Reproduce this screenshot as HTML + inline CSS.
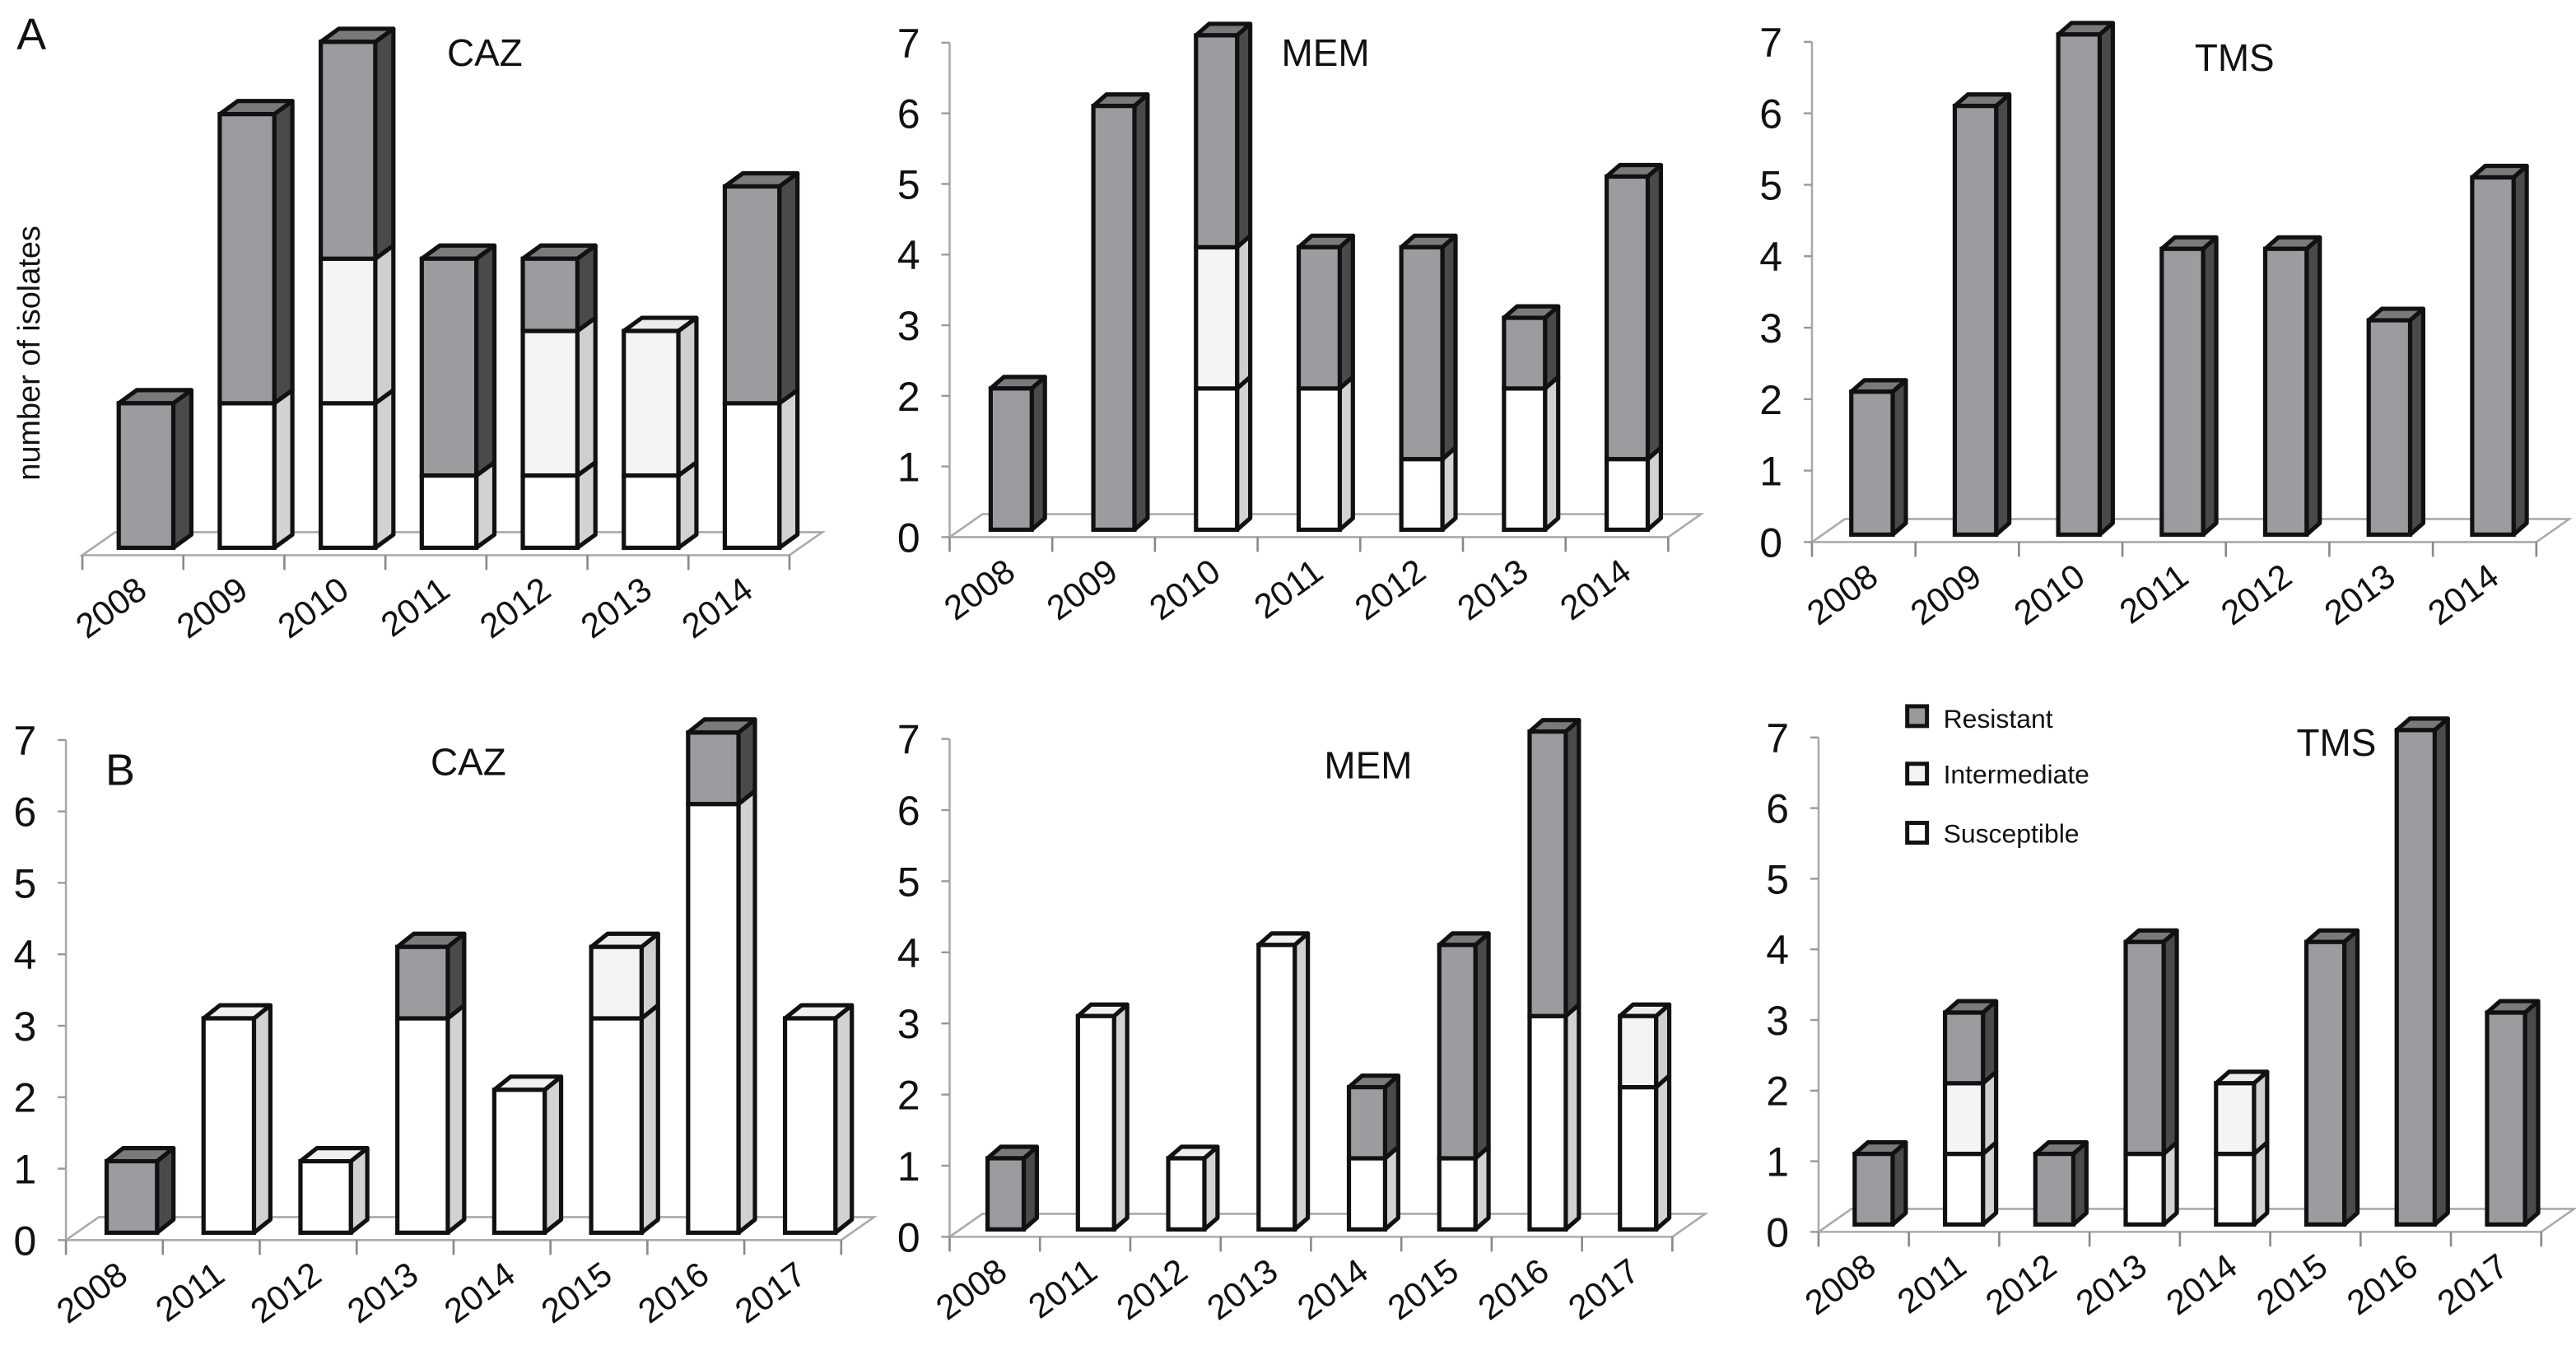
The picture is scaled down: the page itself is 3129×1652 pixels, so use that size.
<!DOCTYPE html>
<html><head><meta charset="utf-8"><style>
html,body{margin:0;padding:0;background:#fff;}
svg{display:block;}
text{font-family:"Liberation Sans",Arial,sans-serif;fill:#111;}
</style></head><body>
<svg id="chart" width="3129" height="1652" viewBox="0 0 1568 828" xmlns="http://www.w3.org/2000/svg">
<text x="10" y="30" font-size="27">A</text>
<text x="64" y="478" font-size="27">B</text>
<text transform="translate(24,215) rotate(-90)" text-anchor="middle" font-size="19">number of isolates</text>
<g>
<rect x="1161" y="430" width="12" height="12" fill="#999" stroke="#111" stroke-width="2.5"/>
<text x="1183" y="443" font-size="16">Resistant</text>
<rect x="1161" y="465" width="12" height="12" fill="#f3f3f3" stroke="#111" stroke-width="2.5"/>
<text x="1183" y="477" font-size="16">Intermediate</text>
<rect x="1161" y="501" width="12" height="12" fill="#fff" stroke="#111" stroke-width="2.5"/>
<text x="1183" y="513" font-size="16">Susceptible</text>
</g>
</svg>
<script>
const yearsA = ["2008","2009","2010","2011","2012","2013","2014"];
const yearsB = ["2008","2011","2012","2013","2014","2015","2016","2017"];
const yTicks = [0,1,2,3,4,5,6,7];
const cazA_S = [0,2,2,1,1,1,2];
const cazA_I = [0,0,2,0,2,2,0];
const cazA_R = [2,4,3,3,1,0,3];
const memA_S = [0,0,2,2,1,2,1];
const memA_I = [0,0,2,0,0,0,0];
const memA_R = [2,6,3,2,3,1,4];
const tmsA_S = [0,0,0,0,0,0,0];
const tmsA_I = [0,0,0,0,0,0,0];
const tmsA_R = [2,6,7,4,4,3,5];
const cazB_S = [0,3,1,3,2,3,6,3];
const cazB_I = [0,0,0,0,0,1,0,0];
const cazB_R = [1,0,0,1,0,0,1,0];
const memB_S = [0,3,1,4,1,1,3,2];
const memB_I = [0,0,0,0,0,0,0,1];
const memB_R = [1,0,0,0,1,3,4,0];
const tmsB_S = [0,1,0,1,1,0,0,0];
const tmsB_I = [0,1,0,0,1,0,0,0];
const tmsB_R = [1,1,1,3,0,4,7,3];

const NS="http://www.w3.org/2000/svg";
const svg=document.getElementById('chart');
function mk(tag,attrs,parent){const e=document.createElementNS(NS,tag);for(const k in attrs)e.setAttribute(k,attrs[k]);(parent||svg).appendChild(e);return e;}
const COLORS={S:{f:"#ffffff",s:"#d2d2d2",t:"#f0f0f0"},I:{f:"#f4f4f4",s:"#cfcfcf",t:"#ececec"},R:{f:"#9a9c9f",s:"#4a4a4a",t:"#7a7a7a"}};

function panel(p){
  const g=mk('g',{});
  
  
  const n=p.years.length, x1=p.x0+n*p.sp;
  const yOf=v=>p.floor-4.5-v*p.unit;
  const fl=mk('polygon',{points:`${p.x0},${p.floor} ${x1},${p.floor} ${x1+20},${p.floor-14} ${p.x0+20},${p.floor-14}`,fill:"none",stroke:"#aaa","stroke-width":1.3},g);
  
  
  for(let i=0;i<=n;i++){
    const t=mk('line',{x1:p.x0+i*p.sp,x2:p.x0+i*p.sp,y1:p.floor,y2:p.floor+9,stroke:"#888","stroke-width":1.3},g);
    
    
  }
  if(p.axis){
    const ax=mk('line',{x1:p.x0,x2:p.x0,y1:p.floor,y2:yOf(7)+4.5,stroke:"#aaa","stroke-width":1.3},g);
    
    
    yTicks.forEach(v=>{
      const yy=p.floor-v*p.unit;
      const tk=mk('line',{x1:p.x0-5,x2:p.x0,y1:yy,y2:yy,stroke:"#999","stroke-width":1.2},g);
      
      
      const tl=mk('text',{x:p.x0-18,y:yy+9,"text-anchor":"end","font-size":25},g);
      tl.textContent=v;
      
      
    });
  }
  const bw=p.bw*p.sp, dx=p.dx, dy=p.dy;
  for(let i=0;i<n;i++){
    const bx=p.x0+p.sp*(i+p.off);
    let acc=0;
    const segs=[["S",p.S[i]],["I",p.I[i]],["R",p.R[i]]].filter(s=>s[1]>0);
    segs.forEach(([k,v],j)=>{
      const yb=yOf(acc), yt=yOf(acc+v); acc+=v;
      const c=COLORS[k];
      const sg=mk('g',{},g);
      
      
      mk('polygon',{points:`${bx+bw},${yb} ${bx+bw+dx},${yb-dy} ${bx+bw+dx},${yt-dy} ${bx+bw},${yt}`,fill:c.s,stroke:"#111","stroke-width":2.6,"stroke-linejoin":"round"},sg);
      if(j===segs.length-1) mk('polygon',{points:`${bx},${yt} ${bx+dx},${yt-dy} ${bx+bw+dx},${yt-dy} ${bx+bw},${yt}`,fill:c.t,stroke:"#111","stroke-width":2.6,"stroke-linejoin":"round"},sg);
      mk('rect',{x:bx,y:yt,width:bw,height:yb-yt,fill:c.f,stroke:"#111","stroke-width":2.6},sg);
    });
    const lx=p.x0+p.sp*(i+0.66), ly=p.floor+24;
    const yl=mk('text',{x:lx,y:ly,"text-anchor":"end","font-size":21,transform:`rotate(-36 ${lx} ${ly})`},g);
    yl.textContent=p.years[i];
    
    
  }
  const tt=mk('text',{x:p.tx,y:p.ty,"font-size":23},g);
  tt.textContent=p.title;
  
  
}
panel({name:'panel-a-caz',key:'a-caz',years:yearsA,S:cazA_S,I:cazA_I,R:cazA_R,x0:50,sp:61.5,floor:338,unit:44,off:0.36,bw:0.54,dx:11,dy:8,axis:false,title:'CAZ',tx:272,ty:40});
panel({name:'panel-a-mem',key:'a-mem',years:yearsA,S:memA_S,I:memA_I,R:memA_R,x0:578,sp:62.5,floor:327,unit:43,off:0.40,bw:0.40,dx:8,dy:7,axis:true,title:'MEM',tx:780,ty:40});
panel({name:'panel-a-tms',key:'a-tms',years:yearsA,S:tmsA_S,I:tmsA_I,R:tmsA_R,x0:1103,sp:63,floor:330,unit:43.5,off:0.38,bw:0.40,dx:8,dy:7,axis:true,title:'TMS',tx:1336,ty:43});
panel({name:'panel-b-caz',key:'b-caz',years:yearsB,S:cazB_S,I:cazB_I,R:cazB_R,x0:40,sp:59,floor:755,unit:43.5,off:0.42,bw:0.52,dx:10,dy:8,axis:true,title:'CAZ',tx:262,ty:472});
panel({name:'panel-b-mem',key:'b-mem',years:yearsB,S:memB_S,I:memB_I,R:memB_R,x0:578,sp:55,floor:753,unit:43.3,off:0.42,bw:0.40,dx:8,dy:7,axis:true,title:'MEM',tx:806,ty:474});
panel({name:'panel-b-tms',key:'b-tms',years:yearsB,S:tmsB_S,I:tmsB_I,R:tmsB_R,x0:1107,sp:55,floor:750,unit:43,off:0.40,bw:0.42,dx:8,dy:7,axis:true,title:'TMS',tx:1398,ty:460});
</script>
</body></html>
